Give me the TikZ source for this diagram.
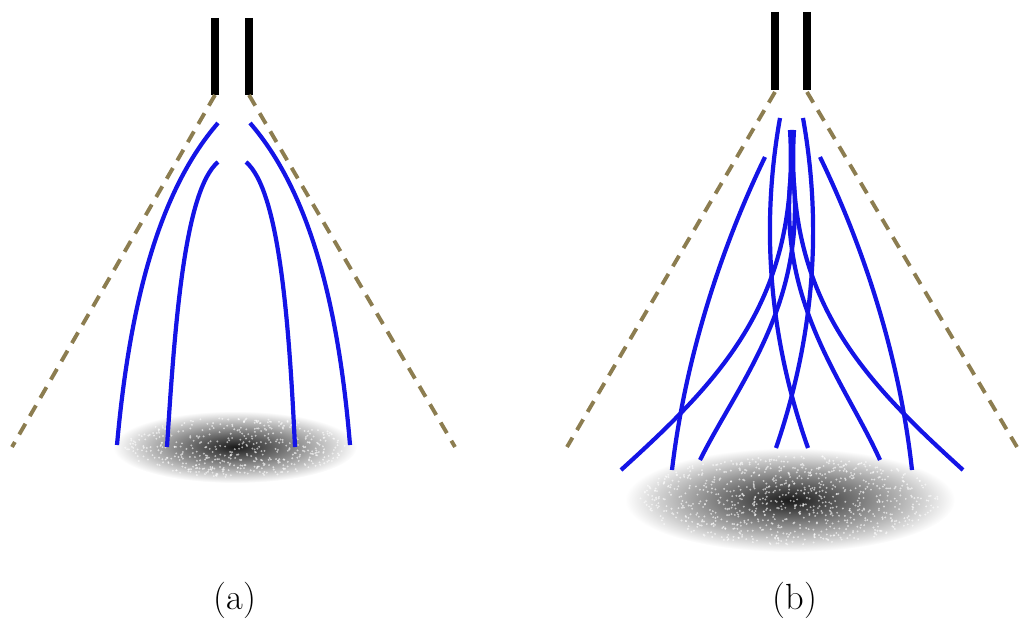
\documentclass[tikz,border=0pt]{standalone}
\usetikzlibrary{calc}
\definecolor{sprayblue}{RGB}{20, 20, 230}
\definecolor{conegold}{RGB}{140, 125, 80}
\tikzset{
  nozzle/.style={line width=4.5pt, black},
  cone/.style={conegold, line width=2.2pt, dash pattern=on 7pt off 5pt},
  jet/.style={sprayblue, line width=2.4pt},
}
\begin{document}
\begin{tikzpicture}[x=0.02cm, y=-0.02cm]
  \useasboundingbox (0,0) rectangle (1028,628);

  % (a) spray cloud
  \shade[inner color=black!90, outer color=white] (235,447) ellipse (122 and 36);
  \foreach \i in {1,...,500}{
    \pgfmathsetmacro\ang{rnd*360}
    \pgfmathsetmacro\rad{sqrt(rnd)}
    \fill[white, opacity=0.6] ($(235,447)+(\ang:{110*\rad} and {30*\rad})$) circle (0.6pt);
  }
  % (a) nozzle and cone
  \draw[nozzle] (215,18) -- (215,95);
  \draw[nozzle] (249,18) -- (249,95);
  \draw[cone] (215,95) -- (12,447);
  \draw[cone] (249,95) -- (455,447);
  % (a) jets
  \draw[jet] (218,123) .. controls (160,190) and (130,300) .. (117,445);
  \draw[jet] (218,162) .. controls (185,190) and (175,320) .. (167,447);
  \draw[jet] (246,162) .. controls (279,190) and (289,320) .. (295,447);
  \draw[jet] (250,123) .. controls (308,190) and (338,300) .. (350,445);

  % (b) spray cloud
  \shade[inner color=black!90, outer color=white] (790,500) ellipse (165 and 52);
  \foreach \i in {1,...,900}{
    \pgfmathsetmacro\ang{rnd*360}
    \pgfmathsetmacro\rad{sqrt(rnd)}
    \fill[white, opacity=0.6] ($(790,500)+(\ang:{150*\rad} and {45*\rad})$) circle (0.6pt);
  }
  % (b) nozzle and cone
  \draw[nozzle] (775,12) -- (775,90);
  \draw[nozzle] (807,12) -- (807,90);
  \draw[cone] (775,92) -- (567,447);
  \draw[cone] (807,92) -- (1017,447);
  % (b) jets
  \draw[jet] (765,157) .. controls (720,250) and (685,360) .. (672,470);
  \draw[jet] (820,157) .. controls (865,250) and (900,360) .. (912,470);
  \draw[jet] (780,118) .. controls (760,230) and (770,340) .. (808,448);
  \draw[jet] (803,118) .. controls (823,230) and (813,340) .. (776,448);
  \draw[jet] (790,130) .. controls (800,300) and (720,380) .. (621,470);
  \draw[jet] (794,130) .. controls (784,300) and (864,380) .. (963,470);
  \draw[jet] (792,165) .. controls (810,300) and (740,380) .. (700,460);
  \draw[jet] (792,165) .. controls (774,300) and (844,380) .. (880,460);

  % captions
  \node (capa) at (235,600) {\huge (a)};
  \node (capb) at (795,600) {\huge (b)};
\end{tikzpicture}
\end{document}
